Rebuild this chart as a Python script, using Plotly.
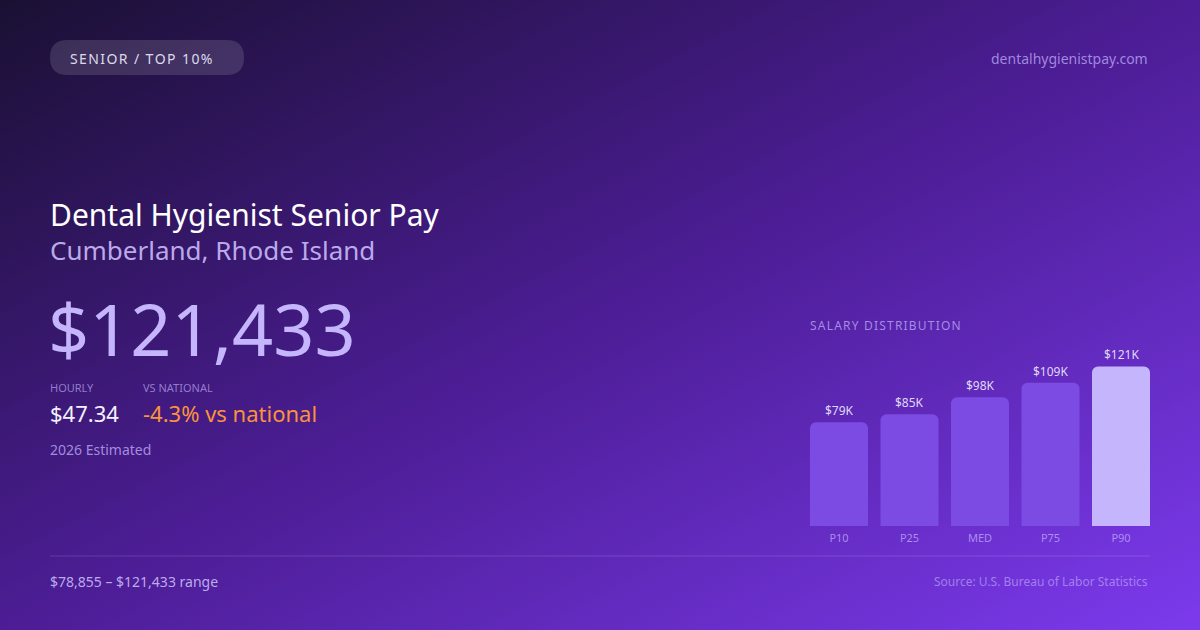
import base64
import plotly.graph_objects as go

# -----------------------------
# dados
# -----------------------------

categories = ["P10", "P25", "MED", "P75", "P90"]
salaries = [78855, 85000, 98000, 109000, 121433]
bar_labels = ["$79K", "$85K", "$98K", "$109K", "$121K"]

badge_text = "SENIOR / TOP 10%"
site_text = "dentalhygienistpay.com"
title_text = "Dental Hygienist Senior Pay"
subtitle_text = "Cumberland, Rhode Island"
annual_text = "$121,433"
hourly_label = "HOURLY"
hourly_text = "$47.34"
national_label = "VS NATIONAL"
national_text = "-4.3% vs national"
year_text = "2026 Estimated"
range_text = "$78,855 – $121,433 range"
source_text = "Source: U.S. Bureau of Labor Statistics"
chart_title = "SALARY DISTRIBUTION"

W, H = 1200, 630
FONT = "Noto Sans"
HAIR = "\u200a"


def px(x):
    return x / W


def py(y):
    return 1 - y / H


def spaced(s):
    # espaçamento entre letras (plotly não tem letter-spacing)
    return HAIR.join(s)


# -----------------------------
# fundo em gradiente
# -----------------------------

svg = (
    '<svg xmlns="http://www.w3.org/2000/svg" width="1200" height="630">'
    '<defs><linearGradient id="g" x1="0" y1="0" x2="1" y2="1">'
    '<stop offset="0" stop-color="#1a1033"/>'
    '<stop offset="0.5" stop-color="#4c1d95"/>'
    '<stop offset="1" stop-color="#7c3aed"/>'
    '</linearGradient></defs>'
    '<rect width="1200" height="630" fill="url(#g)"/></svg>'
)
bg_src = "data:image/svg+xml;base64," + base64.b64encode(svg.encode()).decode()

# -----------------------------
# barras
# -----------------------------

bar_colors = ["#7b4be4"] * (len(categories) - 1) + ["#c4b5fd"]

fig = go.Figure()

fig.add_trace(
    go.Bar(
        x=categories,
        y=salaries,
        marker=dict(color=bar_colors, cornerradius=6, line=dict(width=0)),
        hoverinfo="skip",
        showlegend=False,
    )
)

# rótulos acima das barras
for cat, val, lab in zip(categories, salaries, bar_labels):
    fig.add_annotation(
        x=cat, y=val, xref="x", yref="y",
        text=lab, showarrow=False,
        yanchor="bottom", yshift=1,
        font=dict(family=FONT, size=12, color="rgba(237,233,254,0.92)"),
    )


def rounded_rect(x0, y0, x1, y1, r):
    # caminho em coordenadas de papel, cantos arredondados
    rx, ry = r / W, r / H
    X0, X1 = px(x0), px(x1)
    Y0, Y1 = py(y0), py(y1)
    return (
        f"M {X0 + rx} {Y0} L {X1 - rx} {Y0} Q {X1} {Y0} {X1} {Y0 - ry} "
        f"L {X1} {Y1 + ry} Q {X1} {Y1} {X1 - rx} {Y1} "
        f"L {X0 + rx} {Y1} Q {X0} {Y1} {X0} {Y1 + ry} "
        f"L {X0} {Y0 - ry} Q {X0} {Y0} {X0 + rx} {Y0} Z"
    )


# pílula do topo
fig.add_shape(
    type="path", xref="paper", yref="paper",
    path=rounded_rect(50, 40, 244, 75, 17.5),
    fillcolor="rgba(255,255,255,0.13)", line=dict(width=0), layer="below",
)

# linha divisória
fig.add_shape(
    type="line", xref="paper", yref="paper",
    x0=px(50), x1=px(1150), y0=py(556), y1=py(556),
    line=dict(color="rgba(255,255,255,0.14)", width=1),
)


def label(x, y, text, size, color, anchor="left"):
    fig.add_annotation(
        x=px(x), y=py(y), xref="paper", yref="paper",
        text=text, showarrow=False,
        xanchor=anchor, yanchor="middle",
        font=dict(family=FONT, size=size, color=color),
    )


label(68, 58, spaced(badge_text), 14, "rgba(237,233,254,0.92)")
label(1150, 58, site_text, 14, "rgba(196,181,253,0.72)", anchor="right")
label(48, 214, title_text, 30, "#ffffff")
label(48, 250, subtitle_text, 26, "rgba(205,190,253,0.9)")
label(46, 328, annual_text, 72, "#c4b5fd")
label(48, 387, hourly_label, 11, "rgba(196,181,253,0.65)")
label(141, 387, national_label, 11, "rgba(196,181,253,0.65)")
label(48, 413, hourly_text, 22, "#f3f0ff")
label(141, 413, national_text, 22, "#fb923c")
label(48, 449, year_text, 14, "rgba(196,181,253,0.75)")
label(48, 581, range_text, 14, "rgba(210,198,253,0.85)")
label(1150, 581, source_text, 12, "rgba(196,181,253,0.6)", anchor="right")
label(808, 325, spaced(chart_title), 12, "rgba(196,181,253,0.72)")

# -----------------------------
# layout
# -----------------------------

fig.update_layout(
    width=W, height=H,
    margin=dict(l=0, r=0, t=0, b=0),
    paper_bgcolor="#4c1d95",
    plot_bgcolor="rgba(0,0,0,0)",
    bargap=0.177,
    font=dict(family=FONT),
    images=[dict(
        source=bg_src, xref="paper", yref="paper",
        x=0, y=1, sizex=1, sizey=1, xanchor="left", yanchor="top",
        sizing="stretch", layer="below",
    )],
    xaxis=dict(
        domain=[803.75 / W, 1156.25 / W],
        type="category",
        showgrid=False, showline=False, zeroline=False,
        ticks="", ticklabelstandoff=4,
        tickfont=dict(family=FONT, size=11, color="rgba(196,181,253,0.72)"),
        fixedrange=True,
    ),
    yaxis=dict(
        domain=[py(526), py(340)],
        range=[0, 141500],
        visible=False, fixedrange=True,
    ),
    hovermode=False,
)

fig.write_html(
    "out.html",
    config={"displayModeBar": False},
    post_script="document.body.style.margin='0';",
)
